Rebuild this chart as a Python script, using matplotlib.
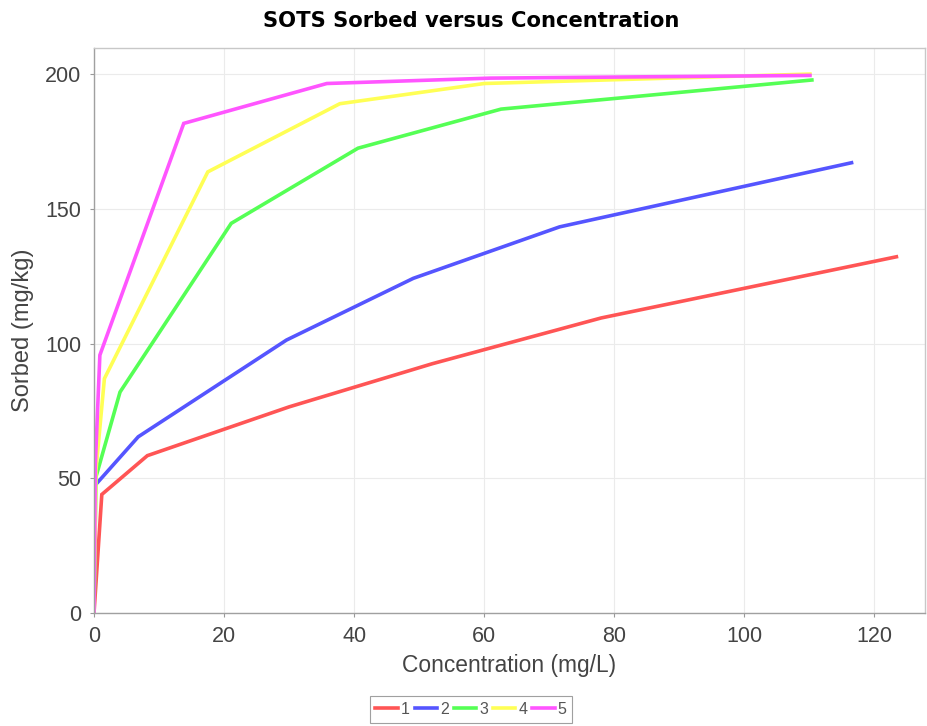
import matplotlib
matplotlib.use("Agg")
from matplotlib import pyplot as plt

# series data (Concentration mg/L, Sorbed mg/kg)
x1 = [0, 1.2, 8.2, 30, 52, 78, 123.4]
y1 = [0, 44, 58.4, 76.5, 92.5, 109.5, 132.2]

x2 = [0, 0.2, 6.8, 29.6, 49.1, 71.6, 116.5]
y2 = [0, 47.5, 65.4, 101.3, 124.2, 143.3, 167.1]

x3 = [0, 0.3, 4.0, 21.1, 40.6, 62.6, 110.4]
y3 = [0, 50.5, 82, 144.6, 172.5, 187, 197.8]

x4 = [0, 0.3, 1.6, 17.5, 37.8, 60, 110.1]
y4 = [0, 53, 87, 163.7, 189, 196.5, 200]

x5 = [0, 0.2, 0.9, 13.8, 35.8, 61, 110.1]
y5 = [0, 55, 95.7, 181.7, 196.5, 198.5, 199.5]

series = [("1", x1, y1), ("2", x2, y2), ("3", x3, y3), ("4", x4, y4), ("5", x5, y5)]
colors = ["#FF5555", "#5555FF", "#55FF55", "#FFFF55", "#FF55FF"]

plt.rcParams["font.family"] = ["Liberation Sans", "DejaVu Sans"]

fig = plt.figure(figsize=(9.28, 7.26), dpi=100)
ax = fig.add_axes([0.1013, 0.1556, 0.8955, 0.778])

for (name, xs, ys), c in zip(series, colors):
    ax.plot(xs, ys, color=c, lw=2.6, label=name, solid_joinstyle="miter")

ax.set_xlim(0, 127.8)
ax.set_ylim(0, 209.6)
ax.set_xticks([0, 20, 40, 60, 80, 100, 120])
ax.set_yticks([0, 50, 100, 150, 200])
ax.grid(True, color="#ebebeb", lw=0.8)
ax.set_axisbelow(True)

for s in ax.spines.values():
    s.set_color("#c8c8c8")
    s.set_linewidth(1)
ax.spines["left"].set_color("#a0a0a0")
ax.spines["bottom"].set_color("#a0a0a0")
ax.tick_params(colors="#999999", labelcolor="#444444", labelsize=15.5, length=3, width=0.8, pad=6)

ax.set_xlabel("Concentration (mg/L)", fontsize=16.4, color="#444444")
ax.set_ylabel("Sorbed (mg/kg)", fontsize=17, color="#444444")
ax.xaxis.set_label_coords(0.5, -0.093)
ax.yaxis.set_label_coords(-0.085, 0.5)
ax.xaxis.label.set_va("center")
ax.yaxis.label.set_va("center")

fig.text(0.508, 0.971, "SOTS Sorbed versus Concentration", ha="center", va="center",
         fontsize=15.2, fontweight="bold", color="#000000", family="DejaVu Sans")

leg = fig.legend(loc="center", bbox_to_anchor=(0.5075, 0.0227), ncol=5, fontsize=11.5,
                 frameon=True, fancybox=False, handlelength=1.4, handletextpad=0.2,
                 columnspacing=0.3, borderpad=0.35, borderaxespad=0)
leg.get_frame().set_edgecolor("#888888")
leg.get_frame().set_linewidth(0.8)
for t in leg.get_texts():
    t.set_color("#555555")

fig.savefig("out.png", dpi=100)
